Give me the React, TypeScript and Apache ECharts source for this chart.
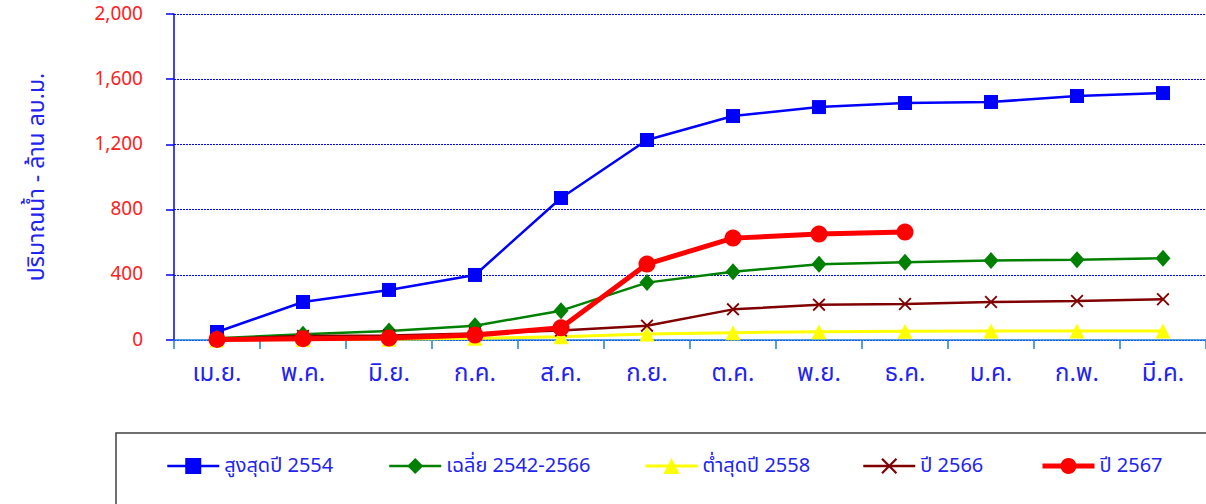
import React, { useEffect, useRef } from "react";
import * as echarts from "echarts";

const months = ["เม.ย.", "พ.ค.", "มิ.ย.", "ก.ค.", "ส.ค.", "ก.ย.", "ต.ค.", "พ.ย.", "ธ.ค.", "ม.ค.", "ก.พ.", "มี.ค."];
const yTicks = [0, 400, 800, 1200, 1600, 2000];

const max2554 = [49, 233, 307, 399, 871, 1227, 1374, 1429, 1454, 1460, 1497, 1515];
const avg2542_2566 = [10, 35, 55, 88, 180, 352, 419, 464, 477, 487, 493, 501];
const min2558 = [0, 3, 5, 10, 20, 37, 45, 51, 53, 55, 55, 55];
const y2566 = [5, 25, 28, 40, 58, 88, 188, 217, 221, 233, 239, 250];
const y2567 = [3, 8, 12, 30, 75, 466, 625, 650, 662];

const seriesNames = ["สูงสุดปี 2554", "เฉลี่ย 2542-2566", "ต่ำสุดปี 2558", "ปี 2566", "ปี 2567"];
const legendLefts = [166, 388, 644, 862, 1040];
const lineWidths = [2.5, 2.5, 3, 2.5, 5];

const FONT = "Tahoma, 'Noto Sans Thai', 'Noto Sans', 'DejaVu Sans', sans-serif";
const TEXT_BLUE = "#2323f0";
const CROSS = "path://M0,1L1,0L5,4L9,0L10,1L6,5L10,9L9,10L5,6L1,10L0,9L4,5Z";

export default function App() {
  const ref = useRef<HTMLDivElement>(null);
  useEffect(() => {
    if (!ref.current) return;
    const chart = echarts.init(ref.current, null, { renderer: "svg" });
    const mk = (name: string, data: number[], color: string, width: number, symbol: string, size: number | number[], z: number) => ({
      name,
      type: "line",
      data,
      z,
      symbol,
      symbolSize: size,
      lineStyle: { color, width },
      itemStyle: { color },
      emphasis: { disabled: true },
    });
    chart.setOption({
      animation: false,
      textStyle: { fontFamily: FONT },
      grid: { left: 174, top: 14, right: 0, bottom: 164, containLabel: false },
      xAxis: {
        type: "category",
        data: months,
        boundaryGap: true,
        axisLine: { show: true, lineStyle: { color: "#1f7fd8", width: 1.5 } },
        axisTick: { show: true, length: 9, interval: 0, lineStyle: { color: "#1f7fd8", width: 1.5 } },
        axisLabel: { color: TEXT_BLUE, fontSize: 24, margin: 22, fontFamily: FONT, interval: 0 },
        splitLine: { show: false },
      },
      yAxis: {
        type: "value",
        min: 0,
        max: 2000,
        interval: 400,
        name: "ปริมาณน้ำ - ล้าน ลบ.ม.",
        nameLocation: "middle",
        nameGap: 126,
        nameRotate: 90,
        nameTextStyle: { color: TEXT_BLUE, fontSize: 23, fontFamily: FONT },
        axisLine: { show: true, lineStyle: { color: "#0000ff", width: 1.5 } },
        axisTick: { show: true, length: 8, inside: false, lineStyle: { color: "#0000ff", width: 1.5 } },
        axisLabel: {
          color: "#ff2020",
          fontSize: 19,
          margin: 31,
          fontFamily: FONT,
          formatter: (v: number) => (yTicks.includes(v) ? v.toLocaleString("en-US") : ""),
        },
        splitLine: { show: true, lineStyle: { color: "#0000ff", type: [2, 1], width: 1 } },
      },
      legend: seriesNames.map((n, i) => ({
        data: [{ name: n, lineStyle: { width: lineWidths[i] } }],
        left: legendLefts[i],
        top: 456,
        padding: 0,
        itemWidth: 52,
        itemHeight: 20,
        itemGap: 5,
        textStyle: { color: TEXT_BLUE, fontSize: 20, fontFamily: FONT },
        selectedMode: false,
      })),
      graphic: [
        {
          type: "rect",
          shape: { x: 116, y: 433, width: 1200, height: 100 },
          style: { fill: "none", stroke: "#404040", lineWidth: 1.5 },
          z: -1,
          silent: true,
        },
      ],
      series: [
        mk(seriesNames[0], max2554, "#0000ff", lineWidths[0], "rect", 14, 2),
        mk(seriesNames[1], avg2542_2566, "#008000", lineWidths[1], "diamond", [15, 17], 3),
        mk(seriesNames[2], min2558, "#ffff00", lineWidths[2], "triangle", 15, 4),
        mk(seriesNames[3], y2566, "#800000", lineWidths[3], CROSS, 13, 5),
        mk(seriesNames[4], y2567, "#ff0000", lineWidths[4], "circle", 17, 6),
      ],
    });
    return () => chart.dispose();
  }, []);
  return <div ref={ref} style={{ position: "fixed", left: 0, top: 0, width: 1206, height: 504, background: "#fff" }} />;
}
